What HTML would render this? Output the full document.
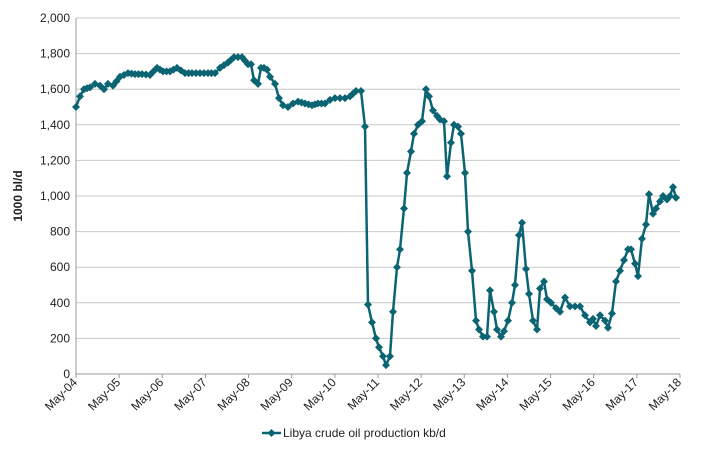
<!DOCTYPE html>
<html><head><meta charset="utf-8"><style>
body{margin:0;background:#fff;}
svg text{font-family:"Liberation Sans",Arial,sans-serif;fill:#222;}
</style></head><body>
<svg width="711" height="458" xmlns="http://www.w3.org/2000/svg" id="s">
<g id="grid" stroke="#c8c8c8" stroke-width="1"></g>
<line x1="76" y1="18" x2="76" y2="374" stroke="#999"/>
<line x1="76" y1="374" x2="680" y2="374" stroke="#999"/>
<g id="yl" font-size="12" text-anchor="end"></g>
<g id="xl" font-size="12" text-anchor="end"></g>
<text transform="translate(22,196) rotate(-90)" font-size="12" font-weight="bold" text-anchor="middle">1000 bl/d</text>
<g id="ser"></g>
<line x1="262" y1="433" x2="281" y2="433" stroke="#0b6472" stroke-width="2.5"/>
<path d="M271.5 429 L275.5 433 L271.5 437 L267.5 433Z" fill="#0b6472"/>
<text x="283" y="437" font-size="12">Libya crude oil production kb/d</text>
</svg>
<script>
var NS="http://www.w3.org/2000/svg";
function el(t,a,p){var e=document.createElementNS(NS,t);for(var k in a)e.setAttribute(k,a[k]);document.getElementById(p).appendChild(e);return e;}
function Y(v){return 374-v*0.178;}
for(var v=0;v<=2000;v+=200){var y=Y(v);if(v>0)el("line",{x1:76,x2:680,y1:y,y2:y},"grid");
var t=el("text",{x:70,y:y+4},"yl");t.textContent=v.toLocaleString("en-US");}
for(var i=0;i<=14;i++){var x=76+i*43.14;el("line",{x1:x,x2:x,y1:374,y2:378,stroke:"#999"},"grid");
var t=el("text",{transform:"translate("+(x+2)+",383) rotate(-45)"},"xl");t.textContent="May-"+String(4+i).padStart(2,"0");}
var d=[76,1500,80,1560,84,1600,90,1610,95,1630,100,1620,104,1600,108,1630,113,1620,120,1670,128,1690,135,1685,142,1685,150,1680,157,1720,163,1700,170,1700,177,1720,185,1690,192,1690,200,1690,208,1690,215,1690,220,1720,228,1750,234,1780,238,1780,242,1780,248,1740,251,1740,254,1650,258,1630,261,1720,264,1720,267,1710,270,1670,275,1630,279,1550,283,1510,288,1500,293,1520,298,1530,305,1520,312,1510,318,1520,325,1520,330,1540,335,1550,340,1550,345,1550,350,1560,356,1590,361,1590,365,1390,368,390,372,290,376,200,379,150,383,100,386,50,390,100,393,350,397,600,400,700,404,930,407,1130,411,1250,414,1350,418,1400,422,1420,426,1600,429,1560,433,1480,437,1450,440,1430,444,1420,447,1110,451,1300,454,1400,458,1390,461,1350,465,1130,468,800,472,580,476,300,479,250,483,210,487,210,490,470,494,350,497,250,501,210,504,240,508,300,512,400,515,500,519,780,522,850,526,590,529,450,533,300,537,250,540,480,544,520,547,420,551,400,556,370,560,350,565,430,570,380,575,380,580,380,585,330,590,290,593,310,596,270,600,330,605,300,608,260,612,340,616,520,620,580,624,640,628,700,631,700,635,620,638,550,642,760,646,840,649,1010,653,900,656,930,660,970,663,1000,667,980,670,1000,673,1050,676,990];
var pts=[],mk=[];
for(var i=0;i<d.length;i+=2){pts.push(d[i]+","+Y(d[i+1]).toFixed(1));mk.push([d[i],Y(d[i+1])]);
 if(i+2<d.length){var gap=d[i+2]-d[i];var n=Math.round(gap/3.6);for(var k=1;k<n;k++){var f=k/n;mk.push([d[i]+gap*f,Y(d[i+1]+(d[i+3]-d[i+1])*f)]);}}}
el("polyline",{points:pts.join(" "),fill:"none",stroke:"#0b6472","stroke-width":2.5,"stroke-linejoin":"round"},"ser");
mk.forEach(function(p){var x=p[0],y=p[1];
el("path",{d:"M"+x+" "+(y-4)+" L"+(x+4)+" "+y+" L"+x+" "+(y+4)+" L"+(x-4)+" "+y+"Z",fill:"#0b6472"},"ser");});
</script>
</body></html>
